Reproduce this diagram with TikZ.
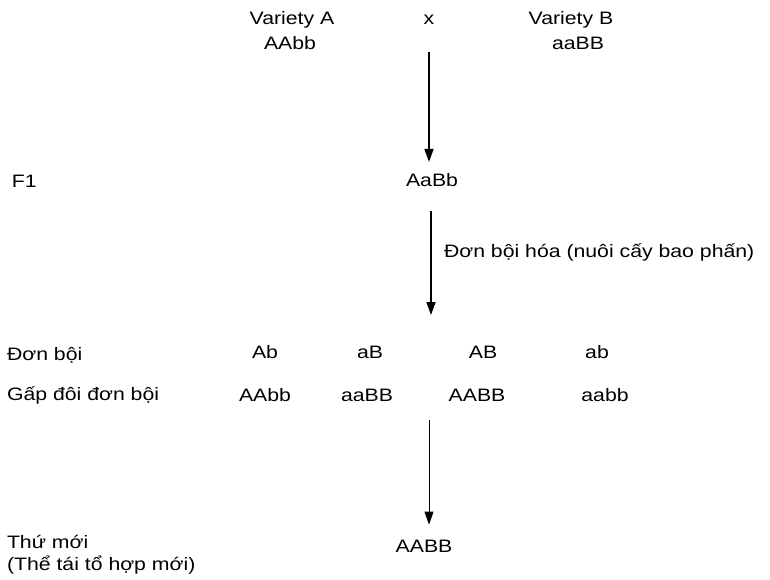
\documentclass[tikz,border=0pt]{standalone}
\usepackage{fontspec}
\setmainfont{Liberation Sans}[FakeStretch=1.18]
\usetikzlibrary{arrows.meta}
\begin{document}
\begin{tikzpicture}[x=1pt,y=1pt,
  every node/.style={inner sep=0pt,outer sep=0pt,font=\fontsize{18}{22}\selectfont},
  geno/.style={anchor=base},
  rowlabel/.style={anchor=base west},
  arr/.style={-{Triangle[width=9pt,length=13pt]},line width=1.6pt},
  thinarr/.style={-{Triangle[width=9pt,length=13pt]},line width=0.9pt}]
\useasboundingbox (0,0) rectangle (770,-580);

% parents
\node[geno] (varA)  at (292,-25) {Variety A};
\node[geno] (genoA) at (290,-50) {AAbb};
\node[geno] (cross) at (429,-25) {x};
\node[geno] (varB)  at (571,-25) {Variety B};
\node[geno] (genoB) at (578,-50) {aaBB};

% F1
\node[rowlabel] (lblF1) at (12,-187) {F1};
\node[geno] (f1) at (432,-186) {AaBb};

% haploids and doubled haploids
\node[rowlabel] (lblHap) at (7,-360) {Đơn bội};
\node[geno] (h1) at (265,-358) {Ab};
\node[geno] (h2) at (370,-358) {aB};
\node[geno] (h3) at (483,-358) {AB};
\node[geno] (h4) at (597,-358) {ab};

\node[rowlabel] (lblDh) at (7,-400) {Gấp đôi đơn bội};
\node[geno] (d1) at (265,-401) {AAbb};
\node[geno] (d2) at (367,-401) {aaBB};
\node[geno] (d3) at (477,-401) {AABB};
\node[geno] (d4) at (605,-401) {aabb};

% new variety
\node[rowlabel] (lblNew)  at (7,-548) {Thứ mới};
\node[rowlabel] (lblNew2) at (7,-570) {(Thể tái tổ hợp mới)};
\node[geno] (newv) at (424,-552) {AABB};

% connectors
\coordinate (hapEnd) at (431,-315);
\coordinate (dhStart) at (429,-420);
\draw[arr, shorten <=27pt, shorten >=11pt] (cross.south) -- (cross.south |- f1.north);
\draw[arr, shorten <=25pt] (f1.south -| hapEnd) -- (hapEnd);
\node[rowlabel] (lblAnther) at (444,-257) {Đơn bội hóa (nuôi cấy bao phấn)};
\draw[thinarr, shorten >=15pt] (dhStart) -- (dhStart |- newv.north);
\end{tikzpicture}
\end{document}
